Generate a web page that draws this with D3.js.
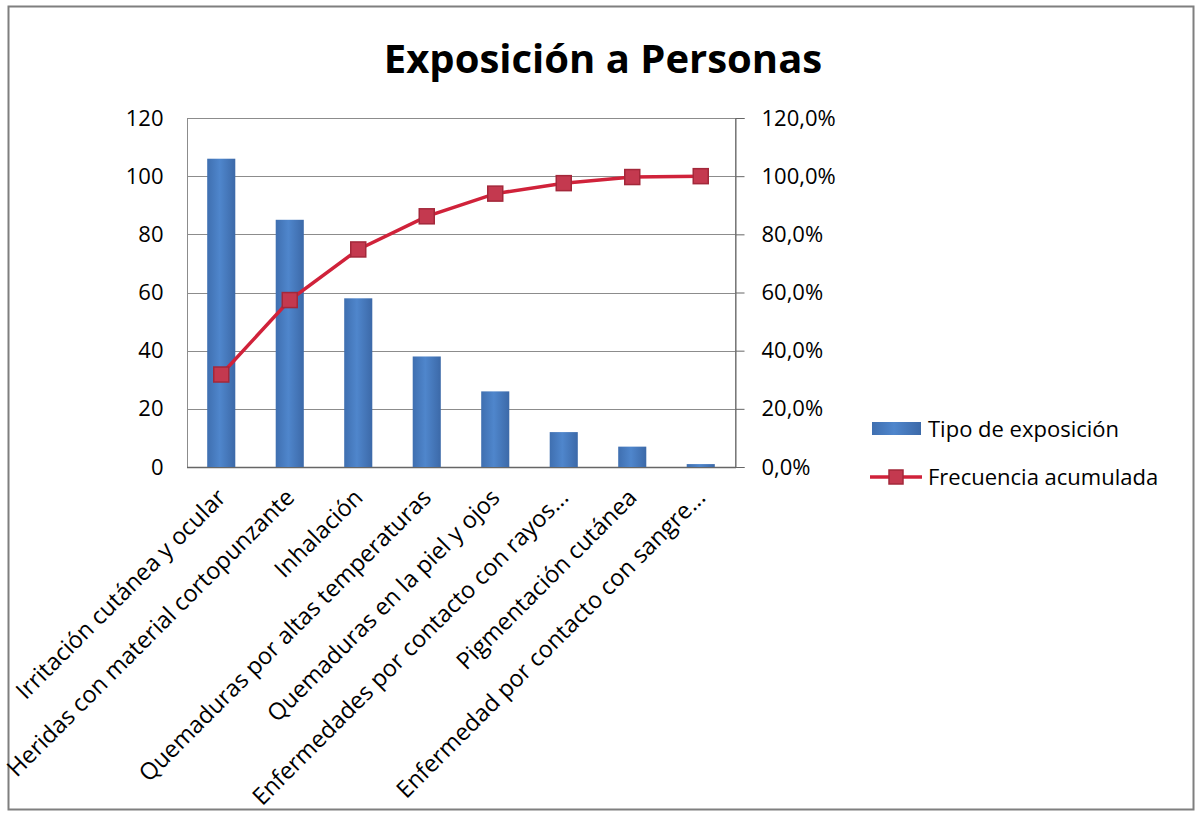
<!DOCTYPE html>
<html lang="es">
<head>
<meta charset="UTF-8">
<title>Exposición a Personas</title>
<script src="https://cdn.jsdelivr.net/npm/d3@7"></script>
<style>
  body { margin: 0; background: #fff; }
  text { font-family: "Open Sans", "Noto Sans", sans-serif; fill: #000; }
</style>
</head>
<body>
<svg class="chart"></svg>
<script>
    // datos
    const categories = [
        "Irritación cutánea y ocular",
        "Heridas con material cortopunzante",
        "Inhalación",
        "Quemaduras por altas temperaturas",
        "Quemaduras en la piel y ojos",
        "Enfermedades por contacto con rayos...",
        "Pigmentación cutánea",
        "Enfermedad por contacto con sangre..."
    ];
    const counts = [106, 85, 58, 38, 26, 12, 7, 1];
    const cumulative = [31.8, 57.4, 74.8, 86.2, 94.0, 97.6, 99.7, 100.0];
    const leftTicks = [0, 20, 40, 60, 80, 100, 120];
    const rightTicks = [0, 20, 40, 60, 80, 100, 120];
    const seriesNames = ["Tipo de exposición", "Frecuencia acumulada"];

    const width = 1196, height = 813;
    const plot = { left: 187, right: 735, top: 118, bottom: 467 };

    const svg = d3.select(".chart")
        .attr("width", width)
        .attr("height", height);

    // marco exterior
    svg.append("rect")
        .attr("x", 8.5).attr("y", 6.5)
        .attr("width", 1185).attr("height", 803)
        .attr("fill", "none")
        .attr("stroke", "#7f7f7f")
        .attr("stroke-width", 2);

    // título
    svg.append("text")
        .attr("x", 603).attr("y", 73)
        .attr("text-anchor", "middle")
        .style("font-size", "40px")
        .style("font-weight", "bold")
        .text("Exposición a Personas");

    const x = d3.scaleBand()
        .domain(categories)
        .range([plot.left, plot.right])
        .paddingInner(0.59)
        .paddingOuter(0.295);

    const y = d3.scaleLinear().domain([0, 120]).range([plot.bottom, plot.top]);
    const y2 = d3.scaleLinear().domain([0, 120]).range([plot.bottom, plot.top]);

    // líneas de cuadrícula
    svg.append("g")
        .selectAll("line")
        .data(leftTicks.slice(1))
        .join("line")
        .attr("x1", plot.left).attr("x2", plot.right)
        .attr("y1", d => Math.round(y(d)) + 0.5)
        .attr("y2", d => Math.round(y(d)) + 0.5)
        .attr("stroke", "#8c8c8c")
        .attr("stroke-width", 1);

    // borde del área de trazado
    svg.append("rect")
        .attr("x", plot.left + 0.5).attr("y", plot.top + 0.5)
        .attr("width", plot.right - plot.left)
        .attr("height", plot.bottom - plot.top)
        .attr("fill", "none")
        .attr("stroke", "#8c8c8c");

    // eje izquierdo
    const yAxis = svg.append("g")
        .attr("transform", `translate(${plot.left + 0.5},0)`)
        .call(d3.axisLeft(y).tickValues(leftTicks).tickSize(0).tickPadding(24));
    yAxis.select(".domain").remove();
    yAxis.selectAll("text").style("font-size", "22px").attr("fill", "#000");

    // eje derecho
    const y2Axis = svg.append("g")
        .attr("transform", `translate(${plot.right + 0.5},0)`)
        .call(d3.axisRight(y2).tickValues(rightTicks).tickSize(9).tickPadding(17)
            .tickFormat(d => d3.format(".1f")(d).replace(".", ",") + "%"));
    y2Axis.select(".domain").attr("stroke", "#666");
    y2Axis.selectAll("line").attr("stroke", "#666");
    y2Axis.selectAll("text").style("font-size", "22px").attr("fill", "#000");

    // eje inferior
    svg.append("line")
        .attr("x1", plot.left).attr("x2", plot.right + 1)
        .attr("y1", plot.bottom + 0.5).attr("y2", plot.bottom + 0.5)
        .attr("stroke", "#666").attr("stroke-width", 1.5);

    // degradado de barras
    const defs = svg.append("defs");
    const grad = defs.append("linearGradient").attr("id", "barGrad")
        .attr("x1", "0").attr("x2", "1").attr("y1", "0").attr("y2", "0");
    grad.append("stop").attr("offset", "0%").attr("stop-color", "#3f6fb0");
    grad.append("stop").attr("offset", "45%").attr("stop-color", "#4f86cc");
    grad.append("stop").attr("offset", "100%").attr("stop-color", "#3c69a8");

    // barras
    svg.append("g")
        .selectAll("rect")
        .data(counts)
        .join("rect")
        .attr("x", (d, i) => x(categories[i]))
        .attr("y", d => y(d))
        .attr("width", x.bandwidth())
        .attr("height", d => plot.bottom - y(d))
        .attr("fill", "url(#barGrad)");

    // línea acumulada
    const line = d3.line()
        .x((d, i) => x(categories[i]) + x.bandwidth() / 2)
        .y(d => y2(d));
    svg.append("path")
        .datum(cumulative)
        .attr("d", line)
        .attr("fill", "none")
        .attr("stroke", "#d0223a")
        .attr("stroke-width", 3.5);

    const ms = 15;
    svg.append("g")
        .selectAll("rect")
        .data(cumulative)
        .join("rect")
        .attr("x", (d, i) => x(categories[i]) + x.bandwidth() / 2 - ms / 2)
        .attr("y", d => y2(d) - ms / 2)
        .attr("width", ms).attr("height", ms)
        .attr("fill", "#c4394f")
        .attr("stroke", "#a3283a")
        .attr("stroke-width", 1.5);

    // etiquetas de categorías
    svg.append("g")
        .selectAll("text")
        .data(categories)
        .join("text")
        .attr("transform", d => `translate(${x(d) + x.bandwidth() / 2 + 6},${plot.bottom + 32}) rotate(-45)`)
        .attr("text-anchor", "end")
        .style("font-size", "23.5px")
        .text(d => d);

    // leyenda
    const legend = svg.append("g");
    legend.append("rect")
        .attr("x", 872).attr("y", 422)
        .attr("width", 49).attr("height", 13)
        .attr("fill", "url(#barGrad)");
    legend.append("text")
        .attr("x", 928).attr("y", 437)
        .style("font-size", "22px")
        .text(seriesNames[0]);
    legend.append("line")
        .attr("x1", 870).attr("x2", 922)
        .attr("y1", 477).attr("y2", 477)
        .attr("stroke", "#d0223a").attr("stroke-width", 3.5);
    legend.append("rect")
        .attr("x", 889).attr("y", 470)
        .attr("width", 14).attr("height", 14)
        .attr("fill", "#c4394f").attr("stroke", "#a3283a").attr("stroke-width", 1.5);
    legend.append("text")
        .attr("x", 928).attr("y", 485)
        .style("font-size", "22px")
        .text(seriesNames[1]);
</script>
</body>
</html>
